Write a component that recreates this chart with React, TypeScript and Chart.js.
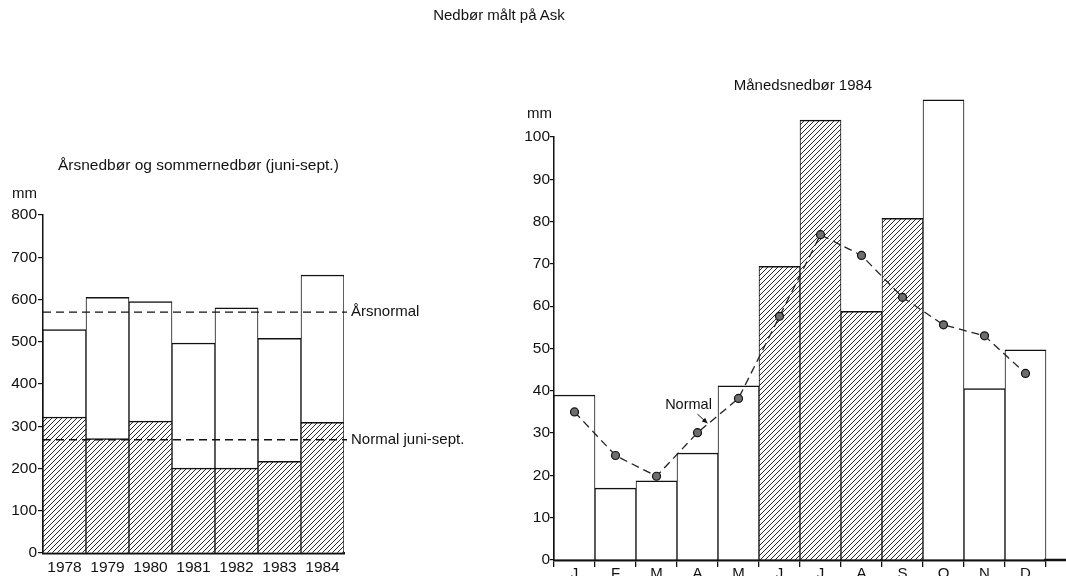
import React, { useEffect, useRef } from 'react';
import { Chart, registerables } from 'chart.js';

Chart.register(...registerables);

// ---------- data ----------
const years = ['1978', '1979', '1980', '1981', '1982', '1983', '1984'];
const annualTotal = [529, 605, 595, 497, 580, 508, 658];
const summerTotal = [322, 271, 312, 201, 201, 217, 309];
const annualNormal = 570;
const summerNormal = 268;
const annualNormalLabel = 'Årsnormal';
const summerNormalLabel = 'Normal juni-sept.';

const months = ['J', 'F', 'M', 'A', 'M', 'J', 'J', 'A', 'S', 'O', 'N', 'D'];
const monthly1984 = [39, 17, 18.7, 25.3, 41.2, 69.4, 104, 58.8, 80.8, 108.8, 40.5, 49.7];
const monthlyNormal = [35, 24.7, 19.8, 30.1, 38.2, 57.6, 76.9, 72, 62.1, 55.6, 53, 44.1];
const summerMonthIdx = [5, 6, 7, 8];
const normalLabel = 'Normal';

const FONT = '"Liberation Sans", Arial, Helvetica, sans-serif';
const INK = '#111';

function makeHatch(): CanvasPattern | string {
  const s = 5;
  const c = document.createElement('canvas');
  c.width = s;
  c.height = s;
  const g = c.getContext('2d');
  if (!g) return '#bbb';
  g.fillStyle = '#fff';
  g.fillRect(0, 0, s, s);
  g.strokeStyle = '#2a2a2a';
  g.lineWidth = 1;
  g.beginPath();
  g.moveTo(0, s);
  g.lineTo(s, 0);
  g.moveTo(-1, 1);
  g.lineTo(1, -1);
  g.moveTo(s - 1, s + 1);
  g.lineTo(s + 1, s - 1);
  g.stroke();
  return g.createPattern(c, 'repeat') || '#bbb';
}

function LeftChart() {
  const ref = useRef<HTMLCanvasElement>(null);
  useEffect(() => {
    if (!ref.current) return;
    const hatch = makeHatch();
    const barBorder = { top: 1.5, left: 1, right: 1, bottom: 0 };
    const normalsPlugin = {
      id: 'normals',
      afterDatasetsDraw(chart: any) {
        const { ctx, chartArea, scales } = chart;
        const y = scales.y;
        ctx.save();
        ctx.setLineDash([8, 5]);
        ctx.lineWidth = 1.3;
        ctx.strokeStyle = INK;
        [annualNormal, summerNormal].forEach((v) => {
          const py = y.getPixelForValue(v);
          ctx.beginPath();
          ctx.moveTo(chartArea.left, py);
          ctx.lineTo(chartArea.right + 3, py);
          ctx.stroke();
        });
        ctx.setLineDash([]);
        ctx.font = '15px ' + FONT;
        ctx.fillStyle = INK;
        ctx.textBaseline = 'middle';
        ctx.textAlign = 'left';
        ctx.fillText(annualNormalLabel, chartArea.right + 7, y.getPixelForValue(annualNormal));
        ctx.fillText(summerNormalLabel, chartArea.right + 7, y.getPixelForValue(summerNormal));
        ctx.restore();
      },
    };
    const chart = new Chart(ref.current, {
      type: 'bar',
      data: {
        labels: years,
        datasets: [
          {
            label: 'Sommer',
            data: summerTotal,
            backgroundColor: hatch as any,
            borderColor: INK,
            borderWidth: barBorder as any,
            grouped: false,
            categoryPercentage: 1,
            barPercentage: 1,
          } as any,
          {
            label: 'År',
            data: annualTotal,
            backgroundColor: '#fff',
            borderColor: INK,
            borderWidth: barBorder as any,
            grouped: false,
            categoryPercentage: 1,
            barPercentage: 1,
          } as any,
        ],
      },
      options: {
        animation: false,
        responsive: false,
        layout: { padding: { top: 215, right: 136, left: 0, bottom: 0 } },
        plugins: { legend: { display: false }, tooltip: { enabled: false } },
        scales: {
          x: {
            grid: { drawOnChartArea: false, drawTicks: false },
            border: { color: INK, width: 2.5 },
            ticks: { color: INK, font: { family: FONT, size: 15.5 }, padding: 5 },
            afterFit: (s: any) => {
              s.height = 23;
            },
          },
          y: {
            min: 0,
            max: 800,
            ticks: { stepSize: 100, color: INK, font: { family: FONT, size: 15.5 }, padding: 1 },
            grid: { drawOnChartArea: false, drawTicks: true, tickLength: 5, color: INK, lineWidth: 1.2 },
            border: { color: INK, width: 1.5 },
            afterFit: (s: any) => {
              s.width = 43;
            },
          },
        },
      },
      plugins: [normalsPlugin],
    });
    return () => chart.destroy();
  }, []);
  return (
    <canvas
      ref={ref}
      width={480}
      height={576}
      style={{ position: 'absolute', left: 0, top: 0, width: 480, height: 576 }}
    />
  );
}

function RightChart() {
  const ref = useRef<HTMLCanvasElement>(null);
  useEffect(() => {
    if (!ref.current) return;
    const hatch = makeHatch();
    const extras = {
      id: 'extras',
      afterDraw(chart: any) {
        const { ctx, chartArea, scales } = chart;
        ctx.save();
        // extend x axis line to the edge
        ctx.strokeStyle = INK;
        ctx.lineWidth = 2.5;
        ctx.beginPath();
        ctx.moveTo(chartArea.right - 2, chartArea.bottom);
        ctx.lineTo(chart.width, chartArea.bottom);
        ctx.stroke();
        // "Normal" annotation
        const tx = scales.x.getPixelForValue(3) - 9;
        const ty = scales.y.getPixelForValue(36.6);
        ctx.font = '14.5px ' + FONT;
        ctx.fillStyle = INK;
        ctx.textAlign = 'center';
        ctx.textBaseline = 'middle';
        ctx.fillText(normalLabel, tx, ty);
        const x0 = tx + 9;
        const y0 = ty + 9;
        const x1 = tx + 19;
        const y1 = ty + 18;
        ctx.lineWidth = 1;
        ctx.beginPath();
        ctx.moveTo(x0, y0);
        ctx.lineTo(x1, y1);
        ctx.stroke();
        const ang = Math.atan2(y1 - y0, x1 - x0);
        ctx.beginPath();
        ctx.moveTo(x1, y1);
        ctx.lineTo(x1 - 6 * Math.cos(ang - 0.45), y1 - 6 * Math.sin(ang - 0.45));
        ctx.lineTo(x1 - 6 * Math.cos(ang + 0.45), y1 - 6 * Math.sin(ang + 0.45));
        ctx.closePath();
        ctx.fill();
        ctx.restore();
      },
    };
    const chart = new Chart(ref.current, {
      type: 'bar',
      data: {
        labels: months,
        datasets: [
          {
            type: 'line',
            label: 'Normal',
            data: monthlyNormal,
            borderColor: '#222',
            borderWidth: 1.3,
            borderDash: [8, 5],
            pointRadius: 4,
            pointBackgroundColor: '#6e6e6e',
            pointBorderColor: INK,
            pointBorderWidth: 1.2,
            tension: 0,
            order: 0,
          } as any,
          {
            type: 'bar',
            label: '1984',
            data: monthly1984,
            backgroundColor: (c: any) => (summerMonthIdx.includes(c.dataIndex) ? hatch : '#fff'),
            borderColor: INK,
            borderWidth: { top: 1.5, left: 1, right: 1, bottom: 0 },
            categoryPercentage: 1,
            barPercentage: 1,
            clip: false,
            order: 1,
          } as any,
        ],
      },
      options: {
        animation: false,
        responsive: false,
        layout: { padding: { top: 137, right: 20, left: 0, bottom: 0 } },
        plugins: { legend: { display: false }, tooltip: { enabled: false } },
        scales: {
          x: {
            grid: { drawOnChartArea: false, drawTicks: true, tickLength: 7, color: INK, lineWidth: 1.3 },
            border: { color: INK, width: 2.5 },
            ticks: { color: INK, font: { family: FONT, size: 15 }, padding: -2 },
            afterFit: (s: any) => {
              s.height = 16;
            },
          },
          y: {
            min: 0,
            max: 100,
            ticks: { stepSize: 10, color: INK, font: { family: FONT, size: 15.5 }, padding: 0 },
            grid: { drawOnChartArea: false, drawTicks: true, tickLength: 4, color: INK, lineWidth: 1.2 },
            border: { color: INK, width: 1.5 },
            afterFit: (s: any) => {
              s.width = 54;
            },
          },
        },
      },
      plugins: [extras],
    });
    return () => chart.destroy();
  }, []);
  return (
    <canvas
      ref={ref}
      width={566}
      height={576}
      style={{ position: 'absolute', left: 500, top: 0, width: 566, height: 576 }}
    />
  );
}

const textStyle = (left: number, top: number, size: number, extra: React.CSSProperties = {}): React.CSSProperties => ({
  position: 'absolute',
  left,
  top,
  fontFamily: FONT,
  fontSize: size,
  lineHeight: size + 2 + 'px',
  color: INK,
  whiteSpace: 'nowrap',
  ...extra,
});

export default function App() {
  return (
    <div
      style={{
        position: 'fixed',
        left: 0,
        top: 0,
        width: 1066,
        height: 576,
        overflow: 'hidden',
        background: '#fff',
      }}
    >
      <LeftChart />
      <RightChart />
      <div style={textStyle(399, 6, 15, { width: 200, textAlign: 'center' })}>Nedbør målt på Ask</div>
      <div style={textStyle(58, 156, 15.5)}>Årsnedbør og sommernedbør (juni-sept.)</div>
      <div style={textStyle(12, 184, 15)}>mm</div>
      <div style={textStyle(703, 76, 15, { width: 200, textAlign: 'center' })}>Månedsnedbør 1984</div>
      <div style={textStyle(527, 104, 15)}>mm</div>
    </div>
  );
}
